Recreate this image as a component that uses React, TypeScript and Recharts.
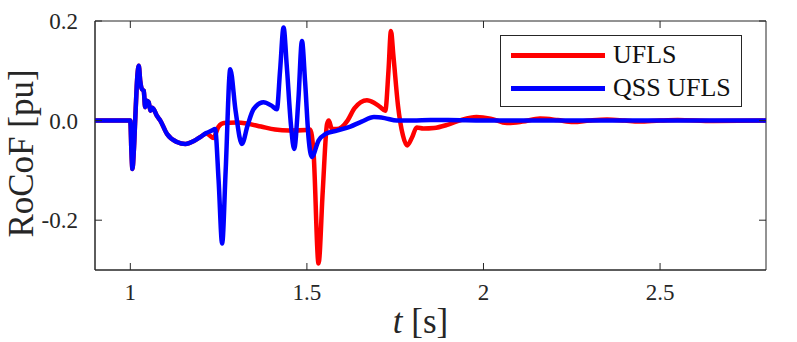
import React from 'react';
import { LineChart, Line, XAxis, YAxis, ReferenceArea } from 'recharts';

// time [s] and RoCoF [pu]
const qssTime = [
  0.9, 0.995, 1.0, 1.003, 1.006, 1.01, 1.015, 1.02, 1.024, 1.028, 1.033, 1.038, 1.042, 1.047, 1.052,
  1.057, 1.062, 1.066, 1.075, 1.085, 1.104, 1.132, 1.156, 1.18, 1.198, 1.215, 1.231, 1.24, 1.25, 1.26,
  1.27, 1.283, 1.298, 1.316, 1.332, 1.349, 1.377, 1.4, 1.415, 1.424, 1.434, 1.443, 1.455, 1.464, 1.476,
  1.486, 1.495, 1.505, 1.514, 1.533, 1.552, 1.585, 1.623, 1.655, 1.69, 1.72, 1.755, 1.8, 1.85, 1.9,
  2.0, 2.2, 2.5, 2.8,
];
const qssRocof = [
  0, 0, 0, -0.06, -0.097, -0.06, 0.02, 0.09, 0.11, 0.08, 0.063, 0.06, 0.027, 0.04, 0.037,
  0.02, 0.026, 0.023, 0.01, 0.0, -0.027, -0.043, -0.047, -0.041, -0.033, -0.025, -0.02, -0.017, -0.12, -0.247,
  -0.1, 0.103, 0.02, -0.047, -0.01, 0.023, 0.037, 0.03, 0.023, 0.1, 0.187, 0.11, -0.01, -0.057, 0.043,
  0.16, 0.077, -0.037, -0.073, -0.04, -0.027, -0.02, -0.012, -0.002, 0.007, 0.005, 0.0, 0.0, 0.001, 0.001,
  0.0, 0.0, 0.0, 0.0,
];

const uflsTime = [
  0.9, 0.995, 1.0, 1.003, 1.006, 1.01, 1.015, 1.02, 1.024, 1.028, 1.033, 1.038, 1.042, 1.047, 1.052,
  1.057, 1.062, 1.066, 1.075, 1.085, 1.104, 1.132, 1.156, 1.18, 1.198, 1.215, 1.225, 1.235, 1.25, 1.265,
  1.3, 1.33, 1.37, 1.41, 1.45, 1.5, 1.509, 1.519, 1.533, 1.545, 1.557, 1.562, 1.571, 1.585, 1.599,
  1.615, 1.635, 1.67, 1.69, 1.708, 1.722, 1.731, 1.738, 1.745, 1.758, 1.772, 1.784, 1.797, 1.811, 1.83,
  1.86, 1.9, 1.94, 1.98, 2.02, 2.066, 2.11, 2.16, 2.21, 2.254, 2.3, 2.35, 2.4, 2.44, 2.5,
  2.55, 2.65, 2.8,
];
const uflsRocof = [
  0, 0, 0, -0.06, -0.097, -0.06, 0.02, 0.09, 0.11, 0.08, 0.063, 0.06, 0.027, 0.04, 0.037,
  0.02, 0.026, 0.023, 0.01, 0.0, -0.027, -0.043, -0.047, -0.041, -0.033, -0.026, -0.03, -0.035, -0.012, -0.005,
  -0.004, -0.006, -0.012, -0.018, -0.02, -0.019, -0.018, -0.066, -0.287, -0.14, -0.007, 0.0, -0.017, -0.017, -0.013,
  0.0, 0.025, 0.041, 0.036, 0.027, 0.02, 0.1, 0.18, 0.13, 0.03, -0.03, -0.05, -0.035, -0.014, -0.016,
  -0.015, -0.008, 0.002, 0.007, 0.004, -0.005, -0.002, 0.004, 0.001, -0.003, 0.0, 0.002, 0.0, -0.002, 0.0,
  0.001, -0.001, 0,
];

const xTicks = [1, 1.5, 2, 2.5];
const yTicks = [-0.2, 0, 0.2];

const qssData = qssTime.map((t, i) => ({ t, v: qssRocof[i] }));
const uflsData = uflsTime.map((t, i) => ({ t, v: uflsRocof[i] }));

const FONT = '"Liberation Serif", "DejaVu Serif", serif';
const AXIS = '#262626';
const W = 797;
const H = 342;
const PLOT_H = 249;
const PLOT_W = 671;

const XTick = ({ x, y, payload }: any) => (
  <g>
    <line x1={x} x2={x} y1={y} y2={y - 7} stroke={AXIS} />
    <line x1={x} x2={x} y1={y - PLOT_H} y2={y - PLOT_H + 7} stroke={AXIS} />
    <text x={x} y={y + 30} textAnchor="middle" fontFamily={FONT} fontSize={23} fill={AXIS}>
      {String(payload.value)}
    </text>
  </g>
);

const YTick = ({ x, y, payload }: any) => (
  <g>
    <line x1={x} x2={x + 7} y1={y} y2={y} stroke={AXIS} />
    <line x1={x + PLOT_W} x2={x + PLOT_W - 7} y1={y} y2={y} stroke={AXIS} />
    <text x={x - 17} y={y + 8} textAnchor="end" fontFamily={FONT} fontSize={23} fill={AXIS}>
      {payload.value.toFixed(1)}
    </text>
  </g>
);

const YLabel = ({ viewBox }: any) => {
  const cx = viewBox.x - 2;
  const cy = viewBox.y + viewBox.height / 2 + 8;
  return (
    <text
      x={cx}
      y={cy}
      transform={`rotate(-90, ${cx}, ${cy})`}
      textAnchor="middle"
      fontFamily={FONT}
      fontSize={35}
      fill={AXIS}
    >
      RoCoF [pu]
    </text>
  );
};

const XLabel = ({ viewBox }: any) => (
  <text
    x={viewBox.x + viewBox.width / 2 - 10}
    y={viewBox.y + 63}
    textAnchor="middle"
    fontFamily={FONT}
    fontSize={35}
    fill={AXIS}
  >
    <tspan fontStyle="italic">t</tspan>
    <tspan> [s]</tspan>
  </text>
);

const legendItems = [
  { name: 'UFLS', color: '#ff0000' },
  { name: 'QSS UFLS', color: '#0000ff' },
];

export default function App() {
  return (
    <div style={{ position: 'absolute', left: 0, top: 0, width: W, height: H, background: '#fff' }}>
      <LineChart width={W} height={H} margin={{ top: 21, right: 31, bottom: 32, left: 35 }}>
        <ReferenceArea x1={0.9} x2={2.8} y1={-0.3} y2={0.2} fill="none" stroke={AXIS} strokeWidth={1} />
        <XAxis
          dataKey="t"
          type="number"
          domain={[0.9, 2.8]}
          ticks={xTicks}
          allowDataOverflow
          height={40}
          stroke={AXIS}
          tickLine={false}
          tickSize={0}
          tickMargin={0}
          tick={<XTick />}
          label={<XLabel />}
        />
        <YAxis
          dataKey="v"
          type="number"
          domain={[-0.3, 0.2]}
          ticks={yTicks}
          allowDataOverflow
          width={60}
          stroke={AXIS}
          tickLine={false}
          tickSize={0}
          tickMargin={0}
          tick={<YTick />}
          label={<YLabel />}
        />
        <Line
          data={uflsData}
          dataKey="v"
          name="UFLS"
          type="monotone"
          stroke="#ff0000"
          strokeWidth={4.5}
          strokeLinejoin="round"
          dot={false}
          isAnimationActive={false}
        />
        <Line
          data={qssData}
          dataKey="v"
          name="QSS UFLS"
          type="monotone"
          stroke="#0000ff"
          strokeWidth={4.5}
          strokeLinejoin="round"
          dot={false}
          isAnimationActive={false}
        />
      </LineChart>
      <div
        style={{
          position: 'absolute',
          left: 500,
          top: 35,
          width: 240,
          height: 70,
          border: `1px solid ${AXIS}`,
          background: '#fff',
          fontFamily: FONT,
          fontSize: 26,
          color: '#111',
        }}
      >
        {legendItems.map((it, i) => (
          <div
            key={it.name}
            style={{ position: 'absolute', left: 10, top: 3 + i * 33, height: 32, display: 'flex', alignItems: 'center' }}
          >
            <div style={{ width: 94, height: 5, background: it.color }} />
            <span style={{ marginLeft: 8, lineHeight: '32px' }}>{it.name}</span>
          </div>
        ))}
      </div>
    </div>
  );
}
